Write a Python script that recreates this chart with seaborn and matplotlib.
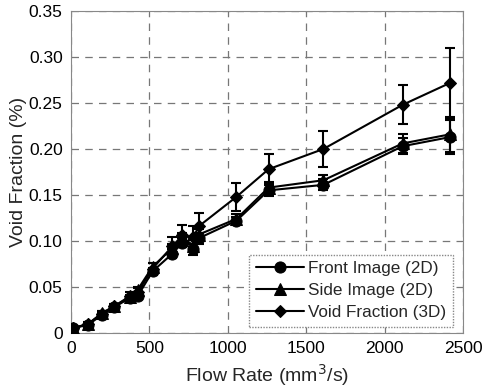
import numpy as np
import pandas as pd
import matplotlib
matplotlib.use("Agg")
import matplotlib.pyplot as plt
import seaborn as sns

# 流量与空隙率数据
flow = [10, 110, 200, 275, 375, 425, 520, 645, 710, 780, 815, 1055, 1260, 1610, 2115, 2420]
front = [0.005, 0.009, 0.020, 0.028, 0.038, 0.040, 0.067, 0.086, 0.098, 0.091, 0.103,
         0.122, 0.155, 0.161, 0.203, 0.213]
side = [0.005, 0.010, 0.022, 0.029, 0.039, 0.047, 0.072, 0.092, 0.104, 0.095, 0.107,
        0.124, 0.158, 0.166, 0.206, 0.216]
void3d = [0.005, 0.010, 0.021, 0.029, 0.040, 0.044, 0.070, 0.094, 0.106, 0.104, 0.116,
          0.148, 0.178, 0.200, 0.248, 0.272]
front_err = [0.001, 0.001, 0.002, 0.002, 0.002, 0.003, 0.004, 0.005, 0.005, 0.006, 0.006,
             0.004, 0.006, 0.006, 0.009, 0.018]
side_err = [0.001, 0.001, 0.002, 0.002, 0.002, 0.003, 0.004, 0.005, 0.005, 0.006, 0.006,
            0.005, 0.006, 0.006, 0.010, 0.019]
void_err = [0.002, 0.002, 0.003, 0.003, 0.004, 0.005, 0.006, 0.010, 0.011, 0.012, 0.014,
            0.015, 0.016, 0.020, 0.021, 0.038]

labels = ["Front Image (2D)", "Side Image (2D)", "Void Fraction (3D)"]
markers = ["o", "^", "D"]
msizes = [8, 8, 6]

sns.set_style("white")
plt.rcParams['font.family'] = ['Liberation Sans', 'DejaVu Sans']

df = pd.DataFrame({"flow": flow * 3,
                   "vf": front + side + void3d,
                   "err": front_err + side_err + void_err,
                   "series": sum([[l] * len(flow) for l in labels], [])})

fig = plt.figure(figsize=(4.84, 3.88), dpi=100)
ax = fig.add_axes([0.1467, 0.1418, 0.81, 0.83])

for lab, mk, ms in zip(labels, markers, msizes):
    sub = df[df["series"] == lab]
    ax.errorbar(sub["flow"], sub["vf"], yerr=sub["err"], fmt="none",
                ecolor="black", elinewidth=1.5, capsize=3.5, capthick=1.5, zorder=3)
    sns.lineplot(data=sub, x="flow", y="vf", ax=ax, color="black", linewidth=1.5,
                 marker=mk, markersize=ms, markeredgecolor="black", label=lab,
                 zorder=4)

ax.set_xlim(0, 2500)
ax.set_ylim(0, 0.35)
ax.set_xticks([0, 500, 1000, 1500, 2000, 2500])
ax.set_yticks(np.arange(0, 0.351, 0.05))
ax.set_yticklabels(["0"] + ["%.2f" % v for v in np.arange(0.05, 0.351, 0.05)])
ax.tick_params(labelsize=12.5, length=0, pad=6, labelcolor="black")
ax.grid(True, linestyle=(0, (6, 5)), color="#777777", linewidth=0.9)
for s in ax.spines.values():
    s.set_color("#888888")
    s.set_linewidth(0.8)

ax.set_xlabel("Flow Rate (mm$^3$/s)", fontsize=14, labelpad=4)
ax.set_ylabel("Void Fraction (%)", fontsize=14, labelpad=1)

leg = ax.legend(loc="lower right", bbox_to_anchor=(0.974, 0.019), fontsize=12.3,
                frameon=True, fancybox=False, framealpha=1, edgecolor="#888888",
                handlelength=2.8, borderaxespad=0, borderpad=0.4,
                labelspacing=0.4, handletextpad=0.25)
leg.get_frame().set_linestyle((0, (1, 1)))

plt.savefig("out.png", dpi=100)
